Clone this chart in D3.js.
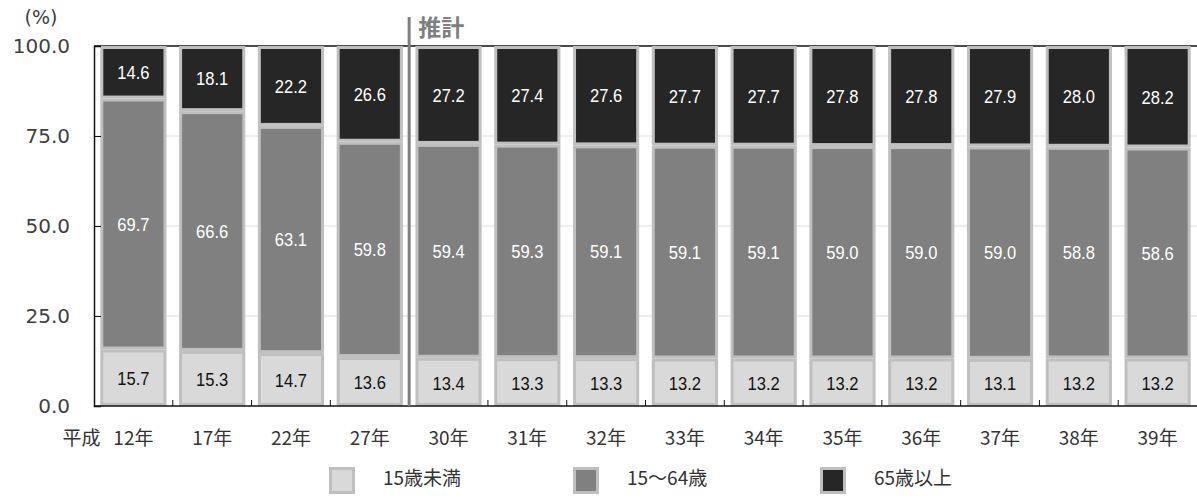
<!DOCTYPE html>
<html><head><meta charset="utf-8">
<script src="https://cdn.jsdelivr.net/npm/d3@7"></script>
<style>
html,body{margin:0;padding:0;background:#fff;}
svg{display:block;}
</style></head>
<body>
<svg id="c" width="1197" height="496"></svg>
<script>
const categories = ["12年","17年","22年","27年","30年","31年","32年","33年","34年","35年","36年","37年","38年","39年"];
const under15 = [15.7,15.3,14.7,13.6,13.4,13.3,13.3,13.2,13.2,13.2,13.2,13.1,13.2,13.2];
const age15to64 = [69.7,66.6,63.1,59.8,59.4,59.3,59.1,59.1,59.1,59.0,59.0,59.0,58.8,58.6];
const over65 = [14.6,18.1,22.2,26.6,27.2,27.4,27.6,27.7,27.7,27.8,27.8,27.9,28.0,28.2];
const seriesNames = ["15歳未満","15～64歳","65歳以上"];
const yTicks = [0,25,50,75,100];
const eraLabel = "平成";
const forecastLabel = "推計";
const forecastStart = "30年";

const colors = ["#d9d9d9","#808080","#262626"];
const labelColors = ["#111","#fff","#fff"];
const strokeCol = "#bfbfbf";

const svg = d3.select("#c");
const L = 94, R = 1197, T = 46, B = 406;

const x = d3.scaleBand().domain(categories).range([L,R]).paddingInner(0.16).paddingOuter(0.08);
const y = d3.scaleLinear().domain([0,100]).range([B,T]);

const rows = categories.map((c,i)=>({cat:c, under15:under15[i], age15to64:age15to64[i], over65:over65[i]}));
const stack = d3.stack().keys(["under15","age15to64","over65"])(rows);

// gridlines
svg.append("g").selectAll("line").data(yTicks.filter(t=>t>0 && t<100)).join("line")
  .attr("x1",L).attr("x2",R).attr("y1",d=>y(d)).attr("y2",d=>y(d))
  .attr("stroke","#dcdcdc").attr("stroke-width",1);
// top border
svg.append("line").attr("x1",L).attr("x2",R).attr("y1",y(100)).attr("y2",y(100))
  .attr("stroke","#111").attr("stroke-width",1.5);

// bars
const bw = x.bandwidth();
stack.forEach((s,si)=>{
  const g = svg.append("g");
  g.selectAll("rect").data(s).join("rect")
    .attr("x",d=>x(d.data.cat)+1.5)
    .attr("width",bw-3)
    .attr("y",d=>y(d[1])+1.5)
    .attr("height",d=>Math.max(0,y(d[0])-y(d[1])-3))
    .attr("fill",colors[si]).attr("stroke",strokeCol).attr("stroke-width",3);
});
stack.forEach((s,si)=>{
  svg.append("g").selectAll("text").data(s).join("text")
    .attr("x",d=>x(d.data.cat)+bw/2)
    .attr("y",d=>(y(d[0])+y(d[1]))/2+ (si===0?3:2))
    .attr("text-anchor","middle").attr("dominant-baseline","middle")
    .attr("font-family","'Liberation Sans Narrow','Liberation Sans',Arial,sans-serif")
    .attr("font-size",18).attr("fill",labelColors[si])
    .attr("transform",d=>{const cx=x(d.data.cat)+bw/2;return `translate(${cx},0) scale(0.92,1) translate(${-cx},0)`;})
    .text(d=>(d[1]-d[0]).toFixed(1));
});

// axes
const yAxis = d3.axisLeft(y).tickValues(yTicks).tickSize(-7).tickPadding(24).tickFormat(d3.format(".1f"));
const ya = svg.append("g").attr("transform",`translate(${L},0)`).call(yAxis);
ya.select(".domain").attr("stroke","#111").attr("stroke-width",1.5);
ya.selectAll(".tick line").attr("stroke","#111");
ya.selectAll(".tick text").attr("font-family","'DejaVu Sans',sans-serif").attr("font-size",20).attr("fill","#404040").attr("dy","0.3em");

svg.append("line").attr("x1",L).attr("x2",R).attr("y1",B).attr("y2",B).attr("stroke","#111").attr("stroke-width",1.5);
// category boundary ticks
svg.append("g").selectAll("line").data(categories.slice(1)).join("line")
  .attr("x1",d=>x(d)-x.step()*x.paddingInner()/2).attr("x2",d=>x(d)-x.step()*x.paddingInner()/2)
  .attr("y1",B).attr("y2",B-6).attr("stroke","#111");

svg.append("g").selectAll("text").data(categories).join("text")
  .attr("x",d=>x(d)+bw/2).attr("y",440)
  .attr("text-anchor","middle").attr("dominant-baseline","middle")
  .attr("font-family","'Noto Sans CJK JP',sans-serif").attr("font-size",19).attr("fill","#333")
  .text(d=>d);
svg.append("text").attr("x",x(categories[0])+bw/2-33).attr("y",440)
  .attr("text-anchor","end").attr("dominant-baseline","middle")
  .attr("font-family","'Noto Sans CJK JP',sans-serif").attr("font-size",19).attr("fill","#333")
  .text(eraLabel);

// unit
svg.append("text").attr("x",41).attr("y",18).attr("text-anchor","middle").attr("dominant-baseline","middle")
  .attr("font-family","'DejaVu Sans',sans-serif").attr("font-size",19).attr("fill","#404040").text("(%)");

// forecast separator
const sx = x(forecastStart) - x.step()*x.paddingInner()/2;
svg.append("line").attr("x1",sx).attr("x2",sx).attr("y1",17).attr("y2",B)
  .attr("stroke","#7f7f7f").attr("stroke-width",3);
svg.append("text").attr("x",sx+9).attr("y",30).attr("dominant-baseline","middle")
  .attr("font-family","'Noto Sans CJK JP',sans-serif").attr("font-weight","bold").attr("font-size",23)
  .attr("fill","#7f7f7f").text(forecastLabel);

// legend
const legX = [329,573,820];
const lg = svg.append("g").selectAll("g").data(seriesNames).join("g")
  .attr("transform",(d,i)=>`translate(${legX[i]},467)`);
lg.append("rect").attr("x",1.5).attr("y",1.5).attr("width",23).attr("height",24)
  .attr("fill",(d,i)=>colors[i]).attr("stroke",strokeCol).attr("stroke-width",3);
lg.append("text").attr("x",54).attr("y",13).attr("dominant-baseline","middle")
  .attr("font-family","'Noto Sans CJK JP',sans-serif").attr("font-size",19).attr("fill","#333")
  .text(d=>d);
</script>
</body></html>
